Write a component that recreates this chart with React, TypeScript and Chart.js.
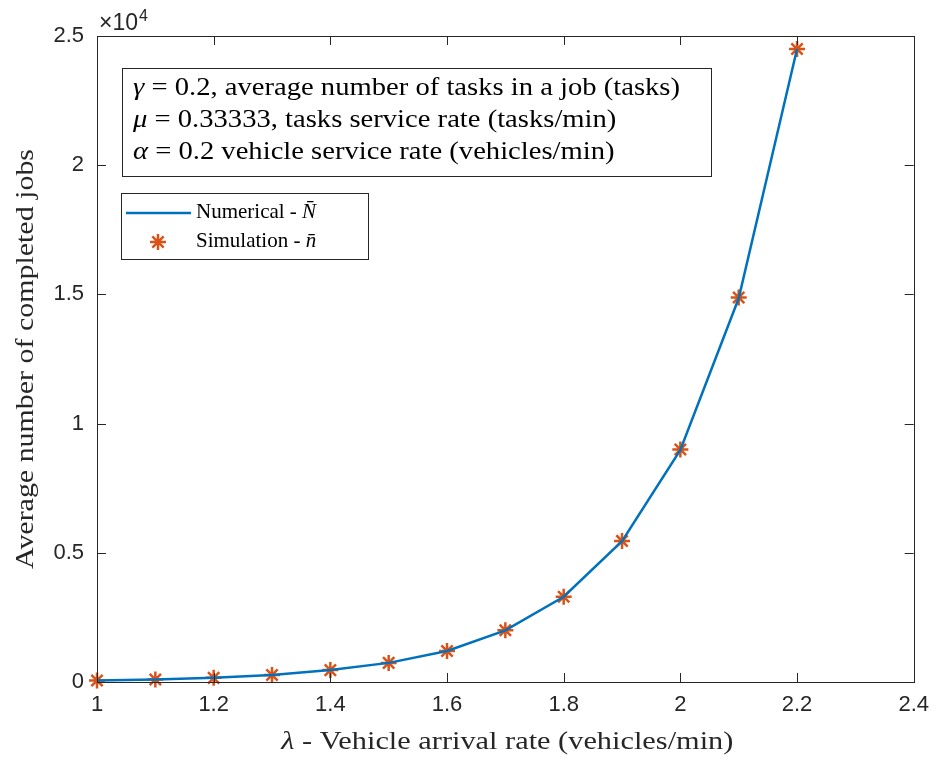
import { useEffect, useRef } from "react";
import { Chart, registerables } from "chart.js";

Chart.register(...registerables);

// ---- data ----
const lambdaValues = [1.0, 1.1, 1.2, 1.3, 1.4, 1.5, 1.6, 1.7, 1.8, 1.9, 2.0, 2.1, 2.2];
const numericalN = [60, 95, 160, 270, 460, 740, 1200, 2000, 3300, 5450, 8980, 14850, 24500];
const simulationN = [60, 95, 160, 270, 460, 740, 1200, 2000, 3300, 5460, 9000, 14880, 24500];
const xTicks = [1, 1.2, 1.4, 1.6, 1.8, 2, 2.2, 2.4];
const yTicks = [0, 5000, 10000, 15000, 20000, 25000];
const yTickLabels = ["0", "0.5", "1", "1.5", "2", "2.5"];
const xTickLabels = ["1", "1.2", "1.4", "1.6", "1.8", "2", "2.2", "2.4"];

type Seg = { t: string; i?: boolean };
const infoLines: Seg[][] = [
  [{ t: "γ", i: true }, { t: " = 0.2, average number of tasks in a job (tasks)" }],
  [{ t: "μ", i: true }, { t: " = 0.33333, tasks service rate (tasks/min)" }],
  [{ t: "α", i: true }, { t: " = 0.2 vehicle service rate (vehicles/min)" }],
];
const legendNumerical: Seg[] = [{ t: "Numerical - " }, { t: "N\u0304", i: true }];
const legendSimulation: Seg[] = [{ t: "Simulation - " }, { t: "n\u0304", i: true }];
const xTitle: Seg[] = [{ t: "λ", i: true }, { t: " - Vehicle arrival rate (vehicles/min)" }];
const yTitle: Seg[] = [{ t: "Average number of completed jobs" }];

const BLUE = "#0072BD";
const ORANGE = "#D95319";
const AXIS = "#262626";
const SERIF = '"Liberation Serif", "DejaVu Serif", serif';
const SANS = '"Liberation Sans", Arial, sans-serif';

function segWidth(ctx: CanvasRenderingContext2D, segs: Seg[], size: number) {
  let w = 0;
  for (const s of segs) {
    ctx.font = `${s.i ? "italic " : ""}${size}px ${SERIF}`;
    w += ctx.measureText(s.t).width;
  }
  return w;
}

function drawSegs(ctx: CanvasRenderingContext2D, segs: Seg[], x: number, y: number, size: number, sx = 1) {
  ctx.save();
  ctx.translate(x, y);
  ctx.scale(sx, 1);
  let cx = 0;
  for (const s of segs) {
    ctx.font = `${s.i ? "italic " : ""}${size}px ${SERIF}`;
    ctx.fillText(s.t, cx, 0);
    cx += ctx.measureText(s.t).width;
  }
  ctx.restore();
}

const decorPlugin = {
  id: "decor",
  afterDraw(chart: any) {
    const { ctx, chartArea: a, scales } = chart;
    const x = scales.x;
    const y = scales.y;
    ctx.save();
    // frame
    ctx.strokeStyle = AXIS;
    ctx.lineWidth = 1;
    ctx.strokeRect(Math.round(a.left) + 0.5, Math.round(a.top) + 0.5, Math.round(a.right - a.left), Math.round(a.bottom - a.top));
    const L = 9;
    ctx.beginPath();
    for (const v of xTicks) {
      const px = Math.round(x.getPixelForValue(v)) + 0.5;
      ctx.moveTo(px, a.bottom);
      ctx.lineTo(px, a.bottom - L);
      ctx.moveTo(px, a.top);
      ctx.lineTo(px, a.top + L);
    }
    for (const v of yTicks) {
      const py = Math.round(y.getPixelForValue(v)) + 0.5;
      ctx.moveTo(a.left, py);
      ctx.lineTo(a.left + L, py);
      ctx.moveTo(a.right, py);
      ctx.lineTo(a.right - L, py);
    }
    ctx.stroke();

    // exponent
    ctx.fillStyle = AXIS;
    ctx.textBaseline = "alphabetic";
    ctx.textAlign = "left";
    ctx.font = `23px ${SANS}`;
    ctx.fillText("×10", a.left + 2, a.top - 6);
    const w10 = ctx.measureText("×10").width;
    ctx.font = `16px ${SANS}`;
    ctx.fillText("4", a.left + 3 + w10, a.top - 15);

    // axis titles
    ctx.fillStyle = AXIS;
    ctx.textBaseline = "middle";
    const titleSize = 26;
    const xw = segWidth(ctx, xTitle, titleSize);
    const xs = 452 / xw;
    drawSegs(ctx, xTitle, (a.left + a.right) / 2 + 2 - (xw * xs) / 2, 742, titleSize, xs);
    const yw = segWidth(ctx, yTitle, titleSize);
    const ys = 420 / yw;
    ctx.save();
    ctx.translate(26, (a.top + a.bottom) / 2 + (yw * ys) / 2);
    ctx.rotate(-Math.PI / 2);
    drawSegs(ctx, yTitle, 0, 0, titleSize, ys);
    ctx.restore();

    // info box
    ctx.fillStyle = "#ffffff";
    ctx.fillRect(122, 68, 589, 108);
    ctx.strokeStyle = AXIS;
    ctx.lineWidth = 1;
    ctx.strokeRect(122.5, 68.5, 589, 108);
    ctx.fillStyle = "#000000";
    const infoSize = 25;
    const iw = segWidth(ctx, infoLines[0], infoSize);
    const is = 547 / iw;
    infoLines.forEach((line, k) => drawSegs(ctx, line, 133, 88 + k * 32, infoSize, is));

    // legend
    ctx.fillStyle = "#ffffff";
    ctx.fillRect(121, 193, 247, 66);
    ctx.strokeStyle = AXIS;
    ctx.strokeRect(121.5, 193.5, 247, 66);
    ctx.strokeStyle = BLUE;
    ctx.lineWidth = 2.5;
    ctx.beginPath();
    ctx.moveTo(126, 213);
    ctx.lineTo(191, 213);
    ctx.stroke();
    // star marker
    ctx.strokeStyle = ORANGE;
    ctx.lineWidth = 2.5;
    const sx = 158, sy = 242, r = 8;
    ctx.beginPath();
    for (let k = 0; k < 4; k++) {
      const ang = (k * Math.PI) / 4;
      ctx.moveTo(sx - r * Math.cos(ang), sy - r * Math.sin(ang));
      ctx.lineTo(sx + r * Math.cos(ang), sy + r * Math.sin(ang));
    }
    ctx.stroke();
    ctx.fillStyle = "#000000";
    drawSegs(ctx, legendNumerical, 196, 212, 21);
    drawSegs(ctx, legendSimulation, 196, 241, 21);
    ctx.restore();
  },
};

export default function App() {
  const ref = useRef<HTMLCanvasElement | null>(null);
  useEffect(() => {
    if (!ref.current) return;
    const chart = new Chart(ref.current, {
      type: "line",
      data: {
        datasets: [
          {
            label: "Numerical",
            data: lambdaValues.map((v, i) => ({ x: v, y: numericalN[i] })),
            borderColor: BLUE,
            borderWidth: 2.5,
            pointRadius: 0,
            fill: false,
            tension: 0,
          },
          {
            label: "Simulation",
            data: lambdaValues.map((v, i) => ({ x: v, y: simulationN[i] })),
            showLine: false,
            pointStyle: "star",
            pointRadius: 8,
            pointBorderWidth: 2.5,
            pointBorderColor: ORANGE,
            pointBackgroundColor: ORANGE,
            borderColor: ORANGE,
            clip: false as any,
          },
        ],
      },
      options: {
        animation: false,
        responsive: false,
        maintainAspectRatio: false,
        devicePixelRatio: 1,
        layout: { padding: { top: 36, right: 23, left: 0, bottom: 0 } },
        plugins: { legend: { display: false }, tooltip: { enabled: false } },
        scales: {
          x: {
            type: "linear",
            min: 1,
            max: 2.4,
            grid: { display: false, drawTicks: false },
            border: { display: false },
            afterBuildTicks: (s: any) => {
              s.ticks = xTicks.map((v) => ({ value: v }));
            },
            afterFit: (s: any) => {
              s.height = 79;
            },
            ticks: {
              padding: 10,
              color: AXIS,
              font: { family: SANS, size: 22 },
              maxRotation: 0,
              callback: (v: any) => {
                const i = xTicks.findIndex((t) => Math.abs(t - Number(v)) < 1e-9);
                return i >= 0 ? xTickLabels[i] : "";
              },
            },
          },
          y: {
            type: "linear",
            min: 0,
            max: 25000,
            grid: { display: false, drawTicks: false },
            border: { display: false },
            afterBuildTicks: (s: any) => {
              s.ticks = yTicks.map((v) => ({ value: v }));
            },
            afterFit: (s: any) => {
              s.width = 97;
            },
            ticks: {
              padding: 13,
              color: AXIS,
              font: { family: SANS, size: 22 },
              callback: (v: any) => {
                const i = yTicks.findIndex((t) => Math.abs(t - Number(v)) < 1e-6);
                return i >= 0 ? yTickLabels[i] : "";
              },
            },
          },
        },
      },
      plugins: [decorPlugin],
    } as any);
    return () => chart.destroy();
  }, []);
  return (
    <div style={{ position: "absolute", left: 0, top: 0, width: 939, height: 761, background: "#fff" }}>
      <canvas ref={ref} width={939} height={761} style={{ display: "block" }} />
    </div>
  );
}
